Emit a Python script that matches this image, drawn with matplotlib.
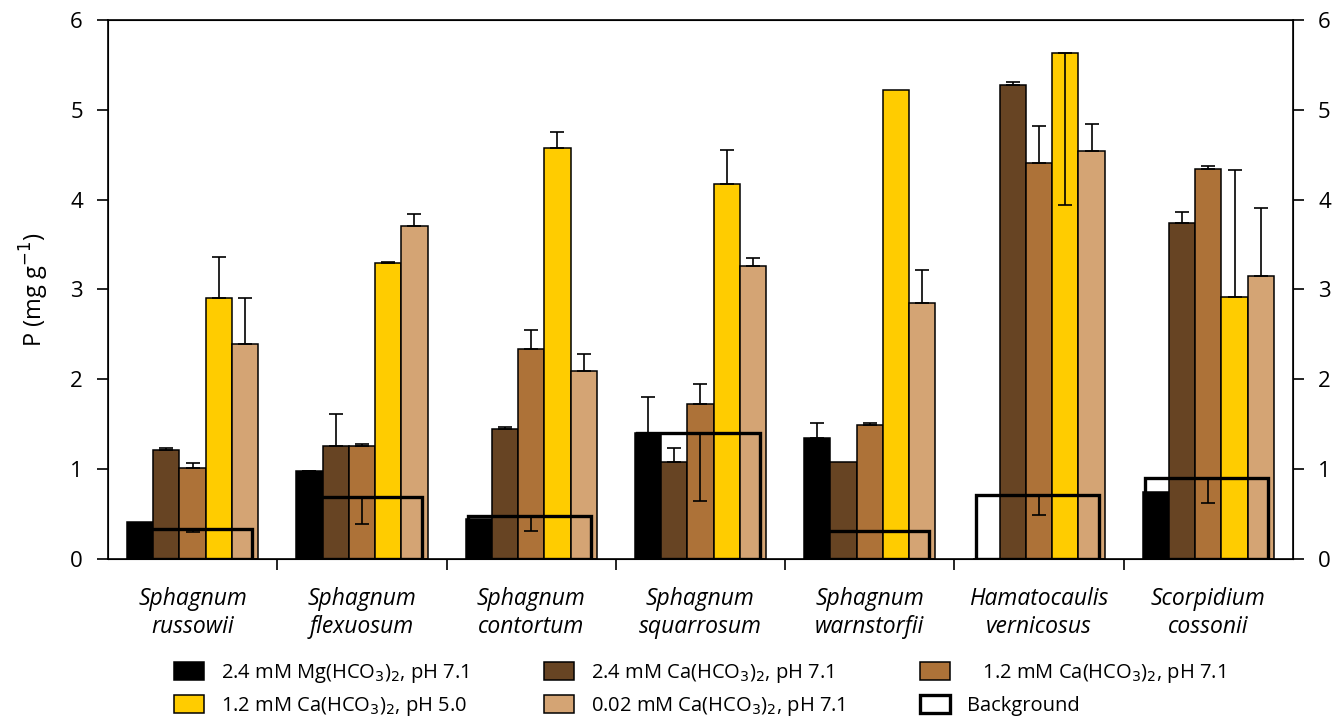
import numpy as np
import matplotlib
matplotlib.use('Agg')
import matplotlib.pyplot as plt
from matplotlib.patches import Patch

plt.rcParams['font.family'] = ['Open Sans', 'DejaVu Sans']

species = ['Sphagnum\nrussowii', 'Sphagnum\nflexuosum', 'Sphagnum\ncontortum',
           'Sphagnum\nsquarrosum', 'Sphagnum\nwarnstorfii', 'Hamatocaulis\nvernicosus',
           'Scorpidium\ncossonii']

series_labels = ['2.4 mM Mg(HCO$_3$)$_2$, pH 7.1', '2.4 mM Ca(HCO$_3$)$_2$, pH 7.1',
                 '   1.2 mM Ca(HCO$_3$)$_2$, pH 7.1', '1.2 mM Ca(HCO$_3$)$_2$, pH 5.0',
                 '0.02 mM Ca(HCO$_3$)$_2$, pH 7.1']
colors = ['#000000', '#674423', '#AD7238', '#FFCC00', '#D4A474']

nan = np.nan
mg24 = [0.415, 0.98, 0.445, 1.40, 1.343, 0.0, 0.742]
mg24_up = [nan, 0.004, nan, 0.40, 0.175, nan, nan]
ca24 = [1.213, 1.258, 1.447, 1.076, 1.08, 5.277, 3.737]
ca24_up = [0.027, 0.36, 0.026, 0.156, nan, 0.035, 0.13]
ca12 = [1.013, 1.258, 2.334, 1.729, 1.492, 4.41, 4.34]
ca12_up = [0.052, 0.022, 0.215, 0.216, 0.022, 0.41, 0.04]
ca12_ph5 = [2.91, 3.30, 4.575, 4.171, 5.221, 5.635, 2.913]
ca12_ph5_up = [0.455, 0.01, 0.175, 0.386, nan, nan, 1.42]
ca12_ph5_down = [nan, nan, nan, nan, nan, 1.70, nan]
ca002 = [2.397, 3.71, 2.096, 3.262, 2.854, 4.54, 3.15]
ca002_up = [0.51, 0.13, 0.19, 0.085, 0.363, 0.30, 0.757]
background = [0.334, 0.687, 0.482, 1.399, 0.312, 0.71, 0.905]
background_down = [0.037, 0.30, 0.167, 0.753, nan, 0.22, 0.282]

values = [mg24, ca24, ca12, ca12_ph5, ca002]
ups = [mg24_up, ca24_up, ca12_up, ca12_ph5_up, ca002_up]
downs = [None, None, None, ca12_ph5_down, None]

fig = plt.figure(figsize=(13.33, 7.22), dpi=100)
ax = fig.add_axes([0.081, 0.2258, 0.889, 0.7465])

centers = np.arange(len(species)) + 0.5
w = 0.155
handles = []
for k in range(5):
    x = centers + (k - 2) * w
    ax.bar(x, values[k], w, color=colors[k], edgecolor='black', linewidth=1.1, zorder=2)
    handles.append(Patch(facecolor=colors[k], edgecolor='black', linewidth=1.1, label=series_labels[k]))

# background outline bars
ax.bar(centers - 0.01, background, 0.725, facecolor='none', edgecolor='black',
       linewidth=2.4, zorder=3)
handles.append(Patch(facecolor='white', edgecolor='black', linewidth=2.4, label='Background'))


def draw_err(x, y, up, down):
    x = np.asarray(x, float)
    y = np.asarray(y, float)
    up = np.asarray(up if up is not None else [nan] * len(y), float)
    down = np.asarray(down if down is not None else [nan] * len(y), float)
    m = ~np.isnan(up)
    if m.any():
        ax.errorbar(x[m], y[m], yerr=[np.zeros(m.sum()), up[m]], fmt='none', ecolor='black',
                    elinewidth=1.2, capsize=4.7, capthick=1.2, zorder=4)
    m = ~np.isnan(down)
    if m.any():
        ax.errorbar(x[m], y[m], yerr=[down[m], np.zeros(m.sum())], fmt='none', ecolor='black',
                    elinewidth=1.2, capsize=4.7, capthick=1.2, zorder=4)


for k in range(5):
    draw_err(centers + (k - 2) * w, values[k], ups[k], downs[k])
draw_err(centers, background, None, background_down)

ax.set_xlim(0, len(species))
ax.set_ylim(0, 6)
ax.set_yticks(range(7))
ax.tick_params(axis='y', direction='out', length=8, width=1.2, labelsize=16, pad=10)
ax.set_xticks(np.arange(1, len(species)))
ax.set_xticklabels([])
ax.tick_params(axis='x', which='major', direction='out', length=8, width=1.2)
ax.set_xticks(centers, minor=True)
ax.set_xticklabels(species, minor=True, fontstyle='italic', fontsize=16.5, linespacing=1.25)
ax.tick_params(axis='x', which='minor', length=0, pad=20)
for s in ax.spines.values():
    s.set_linewidth(1.2)
ax.set_ylabel('P (mg g$^{-1}$)', fontsize=17, labelpad=14)

ax2 = ax.twinx()
ax2.set_ylim(0, 6)
ax2.set_yticks(range(7))
ax2.tick_params(axis='y', direction='out', length=8, width=1.2, labelsize=16, pad=10)

order = [0, 3, 1, 4, 2, 5]
fig.legend([handles[i] for i in order], [handles[i].get_label() for i in order],
           ncol=3, loc='lower left', bbox_to_anchor=(0.117, -0.02), frameon=False,
           prop={'size': 14.5},
           handlelength=1.5, handleheight=1.0, columnspacing=3.7, labelspacing=0.5,
           handletextpad=0.85)

fig.savefig('out.png', dpi=100)
